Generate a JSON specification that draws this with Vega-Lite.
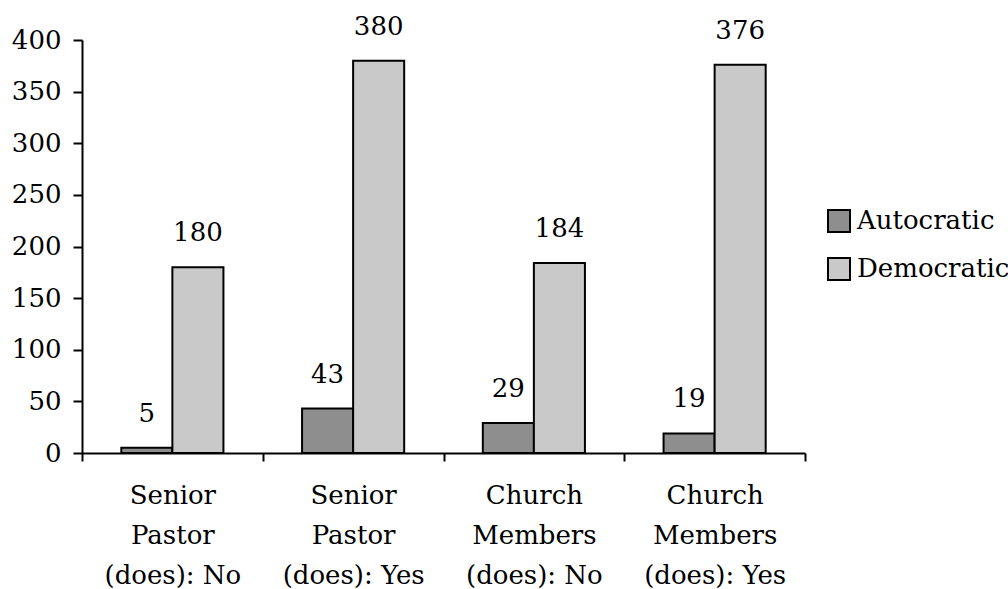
{
  "$schema": "https://vega.github.io/schema/vega-lite/v6.json",
  "autosize": {"type": "none"},
  "padding": {"left": 82, "top": 40, "right": 203, "bottom": 136},
  "width": 723,
  "height": 413,
  "background": "white",
  "config": {
    "font": "DejaVu Serif",
    "view": {"stroke": null},
    "axis": {
      "labelFont": "DejaVu Serif",
      "labelFontSize": 26,
      "labelColor": "black",
      "domainColor": "black",
      "domainWidth": 2,
      "tickColor": "black",
      "tickWidth": 2,
      "grid": false,
      "title": null
    },
    "legend": {
      "labelFont": "DejaVu Serif",
      "labelFontSize": 26,
      "labelColor": "black",
      "labelLimit": 400
    }
  },
  "data": {
    "values": [
      {"group": "Senior|Pastor|(does): No", "type": "Autocratic", "value": 5},
      {"group": "Senior|Pastor|(does): No", "type": "Democratic", "value": 180},
      {"group": "Senior|Pastor|(does): Yes", "type": "Autocratic", "value": 43},
      {"group": "Senior|Pastor|(does): Yes", "type": "Democratic", "value": 380},
      {"group": "Church|Members|(does): No", "type": "Autocratic", "value": 29},
      {"group": "Church|Members|(does): No", "type": "Democratic", "value": 184},
      {"group": "Church|Members|(does): Yes", "type": "Autocratic", "value": 19},
      {"group": "Church|Members|(does): Yes", "type": "Democratic", "value": 376}
    ]
  },
  "encoding": {
    "x": {
      "field": "group",
      "type": "nominal",
      "sort": null,
      "scale": {"paddingInner": 0, "paddingOuter": 0},
      "axis": {
        "labelAngle": 0,
        "labelExpr": "split(datum.label, '|')",
        "labelLineHeight": 40,
        "labelBaseline": "top",
        "labelPadding": 21,
        "tickBand": "extent",
        "tickSize": 8
      }
    },
    "xOffset": {
      "field": "type",
      "type": "nominal",
      "scale": {"paddingInner": 0, "paddingOuter": 0.77}
    },
    "y": {
      "field": "value",
      "type": "quantitative",
      "scale": {"domain": [0, 400], "nice": false},
      "axis": {
        "values": [0, 50, 100, 150, 200, 250, 300, 350, 400],
        "tickSize": 9,
        "labelPadding": 12
      }
    }
  },
  "layer": [
    {
      "mark": {"type": "bar", "stroke": "black", "strokeWidth": 2},
      "encoding": {
        "color": {
          "field": "type",
          "type": "nominal",
          "scale": {"domain": ["Autocratic", "Democratic"], "range": ["#8e8e8e", "#c9c9c9"]},
          "legend": {
            "title": null,
            "orient": "none",
            "legendX": 744,
            "legendY": 168,
            "symbolType": "square",
            "symbolSize": 484,
            "symbolStrokeColor": "black",
            "symbolStrokeWidth": 2,
            "symbolOpacity": 1,
            "labelOffset": 5,
            "rowPadding": 18
          }
        }
      }
    },
    {
      "mark": {"type": "text", "baseline": "alphabetic", "dy": -26, "fontSize": 26, "font": "DejaVu Serif", "color": "black"},
      "encoding": {
        "text": {"field": "value", "type": "quantitative"}
      }
    }
  ]
}
